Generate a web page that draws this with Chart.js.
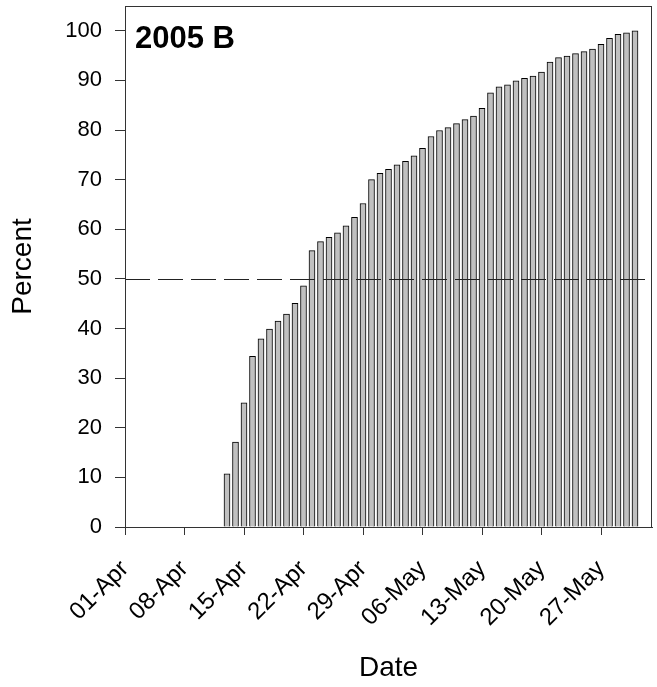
<!DOCTYPE html>
<html>
<head>
<meta charset="utf-8">
<script src="https://cdn.jsdelivr.net/npm/chart.js@4/dist/chart.umd.min.js"></script>
<style>
  html, body { margin: 0; padding: 0; background: #fff; }
  #wrap { width: 657px; height: 687px; }
</style>
</head>
<body>
<div id="wrap"><canvas id="c" width="657" height="687"></canvas></div>
<script>
// Cumulative percent of the 2005 B run, one bar per day
const dates = [
  '13-Apr','14-Apr','15-Apr','16-Apr','17-Apr','18-Apr','19-Apr','20-Apr','21-Apr','22-Apr',
  '23-Apr','24-Apr','25-Apr','26-Apr','27-Apr','28-Apr','29-Apr','30-Apr',
  '01-May','02-May','03-May','04-May','05-May','06-May','07-May','08-May','09-May','10-May',
  '11-May','12-May','13-May','14-May','15-May','16-May','17-May','18-May','19-May','20-May',
  '21-May','22-May','23-May','24-May','25-May','26-May','27-May','28-May','29-May','30-May','31-May'
];
const percent = [
  10.7, 17.1, 25.0, 34.4, 37.9, 39.9, 41.5, 42.9, 45.1, 48.6,
  55.7, 57.5, 58.4, 59.3, 60.7, 62.4, 65.2, 70.0,
  71.3, 72.1, 73.0, 73.7, 74.8, 76.3, 78.7, 79.9, 80.5, 81.3,
  82.1, 82.8, 84.4, 87.5, 88.7, 89.1, 89.9, 90.4, 90.9, 91.7,
  93.7, 94.6, 94.9, 95.4, 95.8, 96.3, 97.3, 98.5, 99.3, 99.6, 100
];
const xTickLabels = ['01-Apr','08-Apr','15-Apr','22-Apr','29-Apr','06-May','13-May','20-May','27-May'];
const yTicks = [0, 10, 20, 30, 40, 50, 60, 70, 80, 90, 100];
const xRange = ['01-Apr', '02-Jun'];
const yRange = [0, 105];
const referenceLevel = 50;
const panelLabel = '2005 B';

// Days since 01-Apr for a "dd-Mon" string
const MONTHS = { Apr: 3, May: 4, Jun: 5 };
function dayIndex(s) {
  const [d, m] = s.split('-');
  return (Date.UTC(2005, MONTHS[m], +d) - Date.UTC(2005, 3, 1)) / 86400000;
}

const FONT = "'Liberation Sans', Arial, sans-serif";

const framePlugin = {
  id: 'frame',
  afterDatasetsDraw(chart) {
    const { ctx, chartArea: a, scales } = chart;
    // dashed reference line at 50 %
    const y = Math.round(scales.y.getPixelForValue(referenceLevel)) + 0.5;
    ctx.save();
    ctx.strokeStyle = '#222';
    ctx.lineWidth = 1;
    ctx.setLineDash([25, 8]);
    ctx.beginPath();
    ctx.moveTo(a.left, y);
    ctx.lineTo(a.right, y);
    ctx.stroke();
    ctx.restore();
  },
  afterDraw(chart) {
    const { ctx, chartArea: a } = chart;
    ctx.save();
    ctx.strokeStyle = '#333';
    ctx.lineWidth = 1;
    ctx.strokeRect(Math.round(a.left) + 0.5, Math.round(a.top) + 0.5,
                   Math.round(a.right - a.left) - 1, Math.round(a.bottom - a.top));
    // panel label
    ctx.fillStyle = '#000';
    ctx.font = "bold 31px " + FONT;
    ctx.textBaseline = 'alphabetic';
    ctx.textAlign = 'left';
    ctx.fillText(panelLabel, a.left + 10, a.top + 42);
    ctx.restore();
  }
};

new Chart(document.getElementById('c'), {
  type: 'bar',
  data: {
    datasets: [{
      data: dates.map((d, i) => ({ x: dayIndex(d), y: percent[i] })),
      backgroundColor: '#c0c0c0',
      borderColor: '#000',
      borderWidth: 1,
      barThickness: 6
    }]
  },
  options: {
    responsive: false,
    animation: false,
    layout: { padding: { top: 6, right: 5, left: 0, bottom: 0 } },
    plugins: { legend: { display: false }, tooltip: { enabled: false } },
    scales: {
      x: {
        type: 'linear',
        offset: false,
        min: dayIndex(xRange[0]),
        max: dayIndex(xRange[1]),
        afterBuildTicks(scale) {
          scale.ticks = xTickLabels.map(l => ({ value: dayIndex(l), label: l }));
        },
        afterFit(scale) {
          scale.height = 160;
          scale.paddingLeft = 0;
          scale.paddingRight = 0;
        },
        grid: { offset: false, drawOnChartArea: false, drawTicks: true, tickLength: 8, color: '#333' },
        border: { display: true, color: '#333' },
        ticks: {
          autoSkip: false,
          minRotation: 45,
          maxRotation: 45,
          padding: 20,
          color: '#000',
          font: { family: FONT, size: 24 },
          callback(v) {
            const i = xTickLabels.findIndex(l => dayIndex(l) === v);
            return i >= 0 ? xTickLabels[i] : '';
          }
        },
        title: {
          display: true,
          text: 'Date',
          color: '#000',
          font: { family: FONT, size: 28 },
          padding: { top: 4, bottom: 2 }
        }
      },
      y: {
        min: yRange[0],
        max: yRange[1],
        afterBuildTicks(scale) {
          scale.ticks = yTicks.map(v => ({ value: v }));
        },
        afterFit(scale) {
          scale.width = 125;
          scale.paddingTop = 0;
          scale.paddingBottom = 0;
        },
        grid: { drawOnChartArea: false, drawTicks: true, tickLength: 10, color: '#333' },
        border: { display: true, color: '#333' },
        ticks: {
          padding: 13,
          color: '#000',
          font: { family: FONT, size: 22 }
        },
        title: {
          display: true,
          text: 'Percent',
          color: '#000',
          font: { family: FONT, size: 28 },
          padding: { top: 6, bottom: 4 }
        }
      }
    }
  },
  plugins: [framePlugin]
});
</script>
</body>
</html>
